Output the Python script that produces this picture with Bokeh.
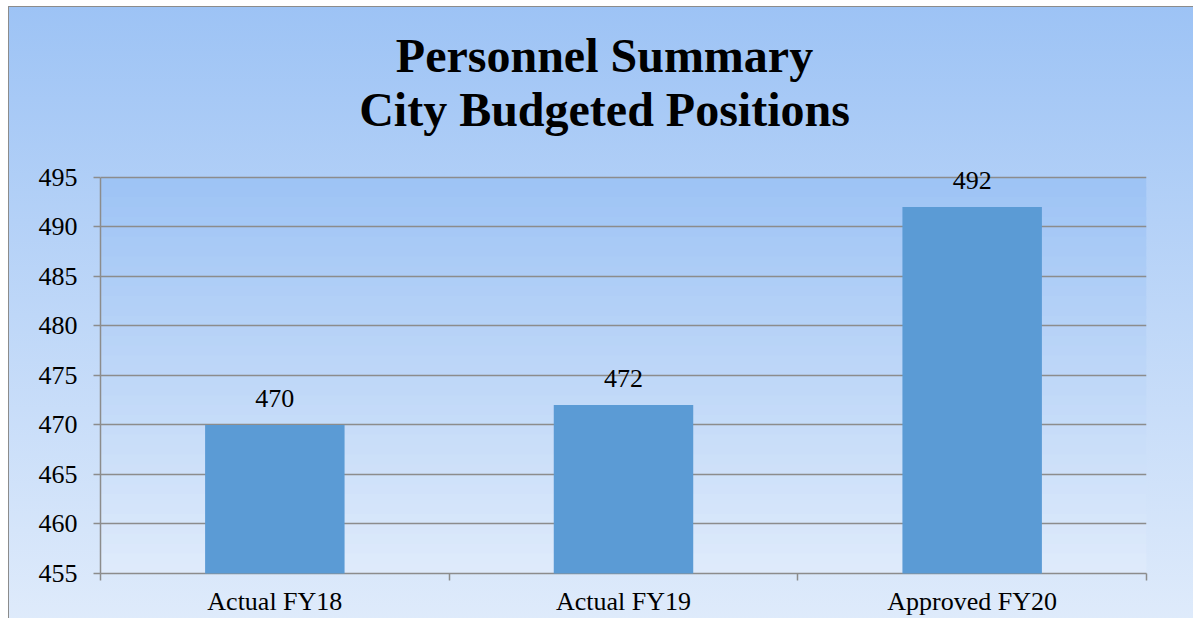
from bokeh.plotting import figure
from bokeh.models import (ColumnDataSource, LabelSet, Label, FixedTicker,
                          BoxAnnotation, Range1d)
from bokeh.core.properties import value
from bokeh.embed import file_html
from bokeh.resources import INLINE

# ---- data ----
categories = ["Actual FY18", "Actual FY19", "Approved FY20"]
positions = [470, 472, 492]
y_start, y_end, y_step = 455, 495, 5
y_ticks = list(range(y_start, y_end + 1, y_step))
title_line1 = "Personnel Summary"
title_line2 = "City Budgeted Positions"

# ---- layout (pixels) ----
W, H = 1193, 618
FRAME_LEFT, FRAME_RIGHT = 100, 1146
FRAME_TOP, FRAME_BOTTOM = 177, 574       # rows of the 495 and 455 gridlines
TITLE_CX = 604
TITLE_BASELINES = (72, 126)
TITLE_SIZE = 48
FONT = "Liberation Serif"
GRID = "#8c8c8c"
TOP_C = (0x9d, 0xc3, 0xf5)
BOT_C = (0xdf, 0xeb, 0xfb)


def mix(t):
    return "#%02x%02x%02x" % tuple(int(round(a + (b - a) * t)) for a, b in zip(TOP_C, BOT_C))


span = y_end - y_start
k = (FRAME_BOTTOM - FRAME_TOP) / span            # px per unit
y_top = y_end + FRAME_TOP / k                     # frame reaches the top of the canvas
n = len(categories)
kx = (FRAME_RIGHT - FRAME_LEFT) / n

xs = [i + 0.5 for i in range(n)]
src = ColumnDataSource(dict(x=xs, top=positions, label=[str(v) for v in positions]))

p = figure(width=W, height=H, output_backend="svg", toolbar_location=None,
           x_range=Range1d(0, n), y_range=Range1d(y_start, y_top),
           min_border_left=FRAME_LEFT, min_border_right=W - FRAME_RIGHT,
           min_border_top=0, min_border_bottom=H - FRAME_BOTTOM)
p.border_fill_color = None
p.background_fill_color = None
p.outline_line_color = None
line = "linear-gradient(#8c8c8c, #8c8c8c)"
p.styles = {
    "background": (
        f"{line} 8px 6px / 1px 100% no-repeat, "
        f"{line} 8px 6px / 100% 1px no-repeat, "
        f"linear-gradient(to bottom, {mix(0)}, {mix(1)}) 8px 6px / 100% 100% no-repeat, "
        "#ffffff"
    )
}

# plot-area gradient (455..495 only)
M = 40
for i in range(M):
    t0 = y_end - span * i / M
    t1 = y_end - span * (i + 1) / M - span / M * 0.3
    p.add_layout(BoxAnnotation(top=t0, bottom=max(t1, y_start), fill_color=mix((i + 0.5) / M),
                               fill_alpha=1.0, line_color=None, level="underlay"))

p.ygrid.level = "glyph"
p.ygrid.grid_line_color = GRID
p.ygrid.grid_line_width = 1.5
p.xgrid.grid_line_color = None

p.vbar(x="x", top="top", bottom=y_start, width=0.4, source=src,
       fill_color="#5b9bd5", line_color=None, level="annotation")

p.add_layout(LabelSet(x="x", y="top", text="label", source=src, text_align="center",
                      text_baseline="alphabetic", y_offset=18, text_font=value(FONT),
                      text_font_size=value("26px"), text_color="#000000"))

# axes
p.yaxis.ticker = FixedTicker(ticks=y_ticks)
p.yaxis.bounds = (y_start, y_end)
p.yaxis.axis_line_color = GRID
p.yaxis.axis_line_width = 1.5
p.yaxis.major_tick_line_color = GRID
p.yaxis.major_tick_line_width = 1.5
p.yaxis.major_tick_out = 7
p.yaxis.major_tick_in = 0
p.yaxis.minor_tick_line_color = None
p.yaxis.major_label_text_font = FONT
p.yaxis.major_label_text_font_size = "26px"
p.yaxis.major_label_text_color = "#000000"
p.yaxis.major_label_standoff = 16

p.xaxis.ticker = FixedTicker(ticks=xs, minor_ticks=list(range(n + 1)))
p.xaxis.major_label_overrides = {x: c for x, c in zip(xs, categories)}
p.xaxis.axis_line_color = GRID
p.xaxis.axis_line_width = 1.5
p.xaxis.major_tick_line_color = None
p.xaxis.major_tick_out = 0
p.xaxis.minor_tick_line_color = GRID
p.xaxis.minor_tick_line_width = 1.5
p.xaxis.minor_tick_out = 7
p.xaxis.minor_tick_in = 0
p.xaxis.major_label_text_font = FONT
p.xaxis.major_label_text_font_size = "26px"
p.xaxis.major_label_text_color = "#000000"
p.xaxis.major_label_standoff = 6

# title: two centred bold lines (middle-anchored, lifted so baselines land on target)
baseline_shift = round(TITLE_SIZE * (0.891 - 0.216) / 2 + 0.5)
for txt, base in zip((title_line1, title_line2), TITLE_BASELINES):
    p.add_layout(Label(x=(TITLE_CX - FRAME_LEFT) / kx, y=y_end + (FRAME_TOP - base) / k,
                       y_offset=baseline_shift,
                       text=txt, text_align="center", text_baseline="middle",
                       text_font=FONT, text_font_size=f"{TITLE_SIZE}px",
                       text_font_style="bold", text_color="#000000"))

open("out.html", "w").write(file_html(p, INLINE))
